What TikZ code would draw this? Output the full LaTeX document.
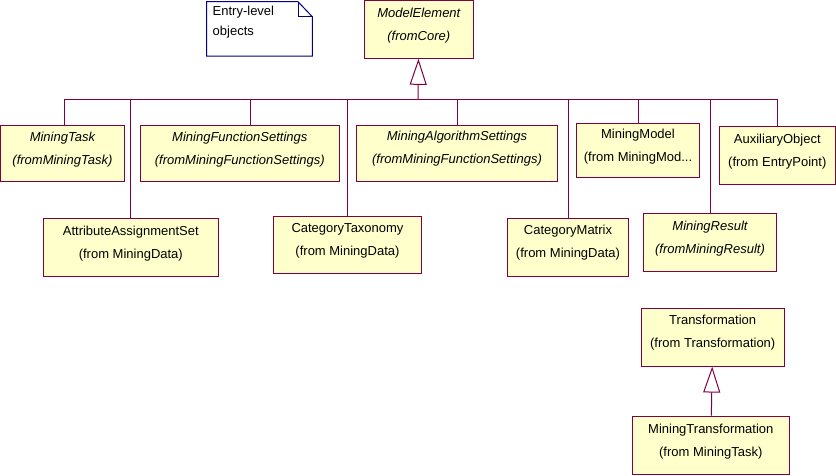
\documentclass[tikz,border=0pt]{standalone}
\usepackage{fontspec}
\setmainfont{Liberation Sans}
\usepackage{xcolor}
\usetikzlibrary{positioning,arrows.meta}
\definecolor{umlred}{RGB}{128,0,64}
\definecolor{umlfill}{RGB}{255,255,204}
\definecolor{noteblue}{RGB}{0,0,128}

\begin{document}
\begin{tikzpicture}[x=1pt,y=-1pt,
  cls/.style={draw=umlred,fill=umlfill,line width=1pt,align=center,inner sep=0pt,
    text depth=11pt,font=\fontsize{13}{23}\selectfont},
  link/.style={draw=umlred,line width=1pt},
  gen/.style={link,-{Triangle[open,length=26pt,width=17pt,fill=white]}}]
\useasboundingbox (0,0) rectangle (836,475);
      \node[font=\fontsize{13}{20}\selectfont,align=left,anchor=north west,inner sep=0pt] (note) at (212.5,6) {Entry-level\\objects};
      \draw[noteblue,line width=1pt] (206.7,1.7) -- (298,1.7) -- (312.3,16.7) -- (312.3,56) -- (206.7,56) -- cycle;
      \draw[noteblue,line width=1pt] (298,1.7) -- (298,16.7) -- (312.3,16.7);
      \node[cls,minimum width=109pt,minimum height=57.8pt] (me) at (418.8,29.4) {\itshape ModelElement\\\itshape (fromCore)};
      \node[cls,minimum width=123.8pt,minimum height=55.6pt] (mt) at (62.4,153.5) {\itshape MiningTask\\\itshape (fromMiningTask)};
      \node[cls,minimum width=199pt,minimum height=55.6pt] (mfs) at (239.8,153.5) {\itshape MiningFunctionSettings\\\itshape (fromMiningFunctionSettings)};
      \node[cls,minimum width=200.6pt,minimum height=56pt] (mas) at (457,153) {\itshape MiningAlgorithmSettings\\\itshape (fromMiningFunctionSettings)};
      \node[cls,minimum width=122.6pt,minimum height=54pt] (mm) at (638,150.3) {MiningModel\\(from MiningMod...};
      \node[cls,minimum width=116pt,minimum height=57.6pt] (aux) at (777.3,155.5) {AuxiliaryObject\\(from EntryPoint)};
      \node[cls,minimum width=175pt,minimum height=58.4pt] (aas) at (130.8,247.5) {AttributeAssignmentSet\\(from MiningData)};
      \node[cls,minimum width=148.4pt,minimum height=56.6pt] (ct) at (347.5,245) {CategoryTaxonomy\\(from MiningData)};
      \node[cls,minimum width=121.4pt,minimum height=57.7pt] (cm) at (568,247.2) {CategoryMatrix\\(from MiningData)};
      \node[cls,minimum width=133.4pt,minimum height=58.4pt] (mr) at (710,242.5) {\itshape MiningResult\\\itshape (fromMiningResult)};
      \node[cls,minimum width=143.3pt,minimum height=57.7pt] (tr) at (712.7,337.2) {Transformation\\(from Transformation)};
      \node[cls,minimum width=157pt,minimum height=58.5pt] (mtr) at (710.8,445.3) {MiningTransformation\\(from MiningTask)};
      \coordinate (hub) at (418,99);
      \draw[gen] (hub) -- (me);
      \draw[link] ([xshift=2pt]mt.north) -- ([xshift=2pt]mt.north |- hub) -- (aux.north |- hub) -- (aux.north);
      \draw[link] ([xshift=11pt]mfs.north) -- ([xshift=11pt]mfs.north |- hub);
      \foreach \n in {aas,ct,mas,cm,mm,mr}
          \draw[link] (\n.north) -- (\n.north |- hub);
      \draw[gen] (mtr) -- (tr);
\end{tikzpicture}
\end{document}
